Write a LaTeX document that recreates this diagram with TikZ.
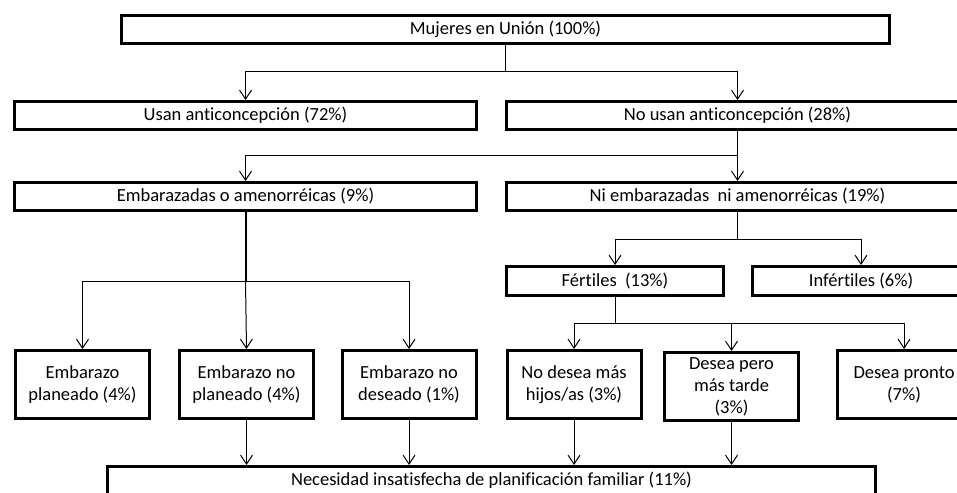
\documentclass[tikz,border=0pt]{standalone}
\usepackage{fontspec}
\setmainfont{Carlito}[Ligatures=NoCommon]
\usetikzlibrary{arrows.meta}
\tikzstyle{box} = [draw, line width=3pt, inner sep=0pt, align=center, font=\fontsize{18.5}{22}\selectfont]
\tikzstyle{wide} = [box, minimum width=462pt, minimum height=28pt]
\tikzstyle{long} = [box, minimum width=768pt, minimum height=28pt]
\tikzstyle{mid} = [box, minimum width=217pt, minimum height=29pt]
\tikzstyle{leaf} = [box, minimum width=134pt, minimum height=68pt]

\begin{document}
\begin{tikzpicture}[x=1pt,y=-1pt,->,>={Straight Barb[length=9pt,width=12pt]},line width=1pt]

\useasboundingbox (0,0) rectangle (957,492);
\clip (0,0) rectangle (957,492);

\node[long] (m) at (505.5,29.5) {Mujeres en Unión (100\%)};
\node[wide] (u) at (245.5,115.5) {Usan anticoncepción (72\%)};
\node[wide] (n) at (737.5,115.5) {No usan anticoncepción (28\%)};
\node[wide] (e) at (245.5,196.5) {Embarazadas o amenorréicas (9\%)};
\node[wide] (ne) at (737.5,196.5) {Ni embarazadas\ \ ni amenorréicas (19\%)};
\node[mid] (f) at (615,281) {Fértiles\ \ (13\%)};
\node[mid] (i) at (861,281) {Infértiles (6\%)};
\node[leaf] (p1) at (82.5,384.5) {Embarazo\\planeado (4\%)};
\node[leaf] (p2) at (246.5,384.5) {Embarazo no\\planeado (4\%)};
\node[leaf] (p3) at (409,384.5) {Embarazo no\\deseado (1\%)};
\node[leaf] (d1) at (574,384.5) {No desea más\\hijos/as (3\%)};
\node[leaf] (d2) at (731.5,386.5) {Desea pero\\más tarde\\(3\%)};
\node[leaf] (d3) at (904,384.5) {Desea pronto\\(7\%)};
\node[long] (b) at (491.5,480.5) {Necesidad insatisfecha de planificación familiar (11\%)};

% junctions
\coordinate (j1) at (505,72);
\coordinate (j2) at (737.5,155);
\coordinate (j3) at (245.5,281);
\coordinate (j4) at (737.5,239);
\coordinate (j5) at (615,323);

\draw[-] (m.south -| j1) -- (j1);
\draw (j1) -| (u.north);
\draw (j1) -| (n.north);

\draw[-] (n.south) -- (j2);
\draw (j2) -| (e.north);
\draw (j2) -- (ne.north);

\draw[-,line width=2pt] (e.south) -- (j3);
\draw (j3) -| (p1.north);
\draw (j3) -- (p2.north);
\draw (j3) -| (p3.north);

\draw[-] (ne.south) -- (j4);
\draw (j4) -| (f.north);
\draw (j4) -| (i.north);

\draw[-] (f.south) -- (j5);
\draw (j5) -| (d1.north);
\draw (j5) -| (d2.north);
\draw (j5) -| (d3.north);

\draw (p2.south) -- (p2.south |- b.north);
\draw (p3.south) -- (p3.south |- b.north);
\draw (d1.south) -- (d1.south |- b.north);
\draw (d2.south) -- (d2.south |- b.north);
\end{tikzpicture}
\end{document}
